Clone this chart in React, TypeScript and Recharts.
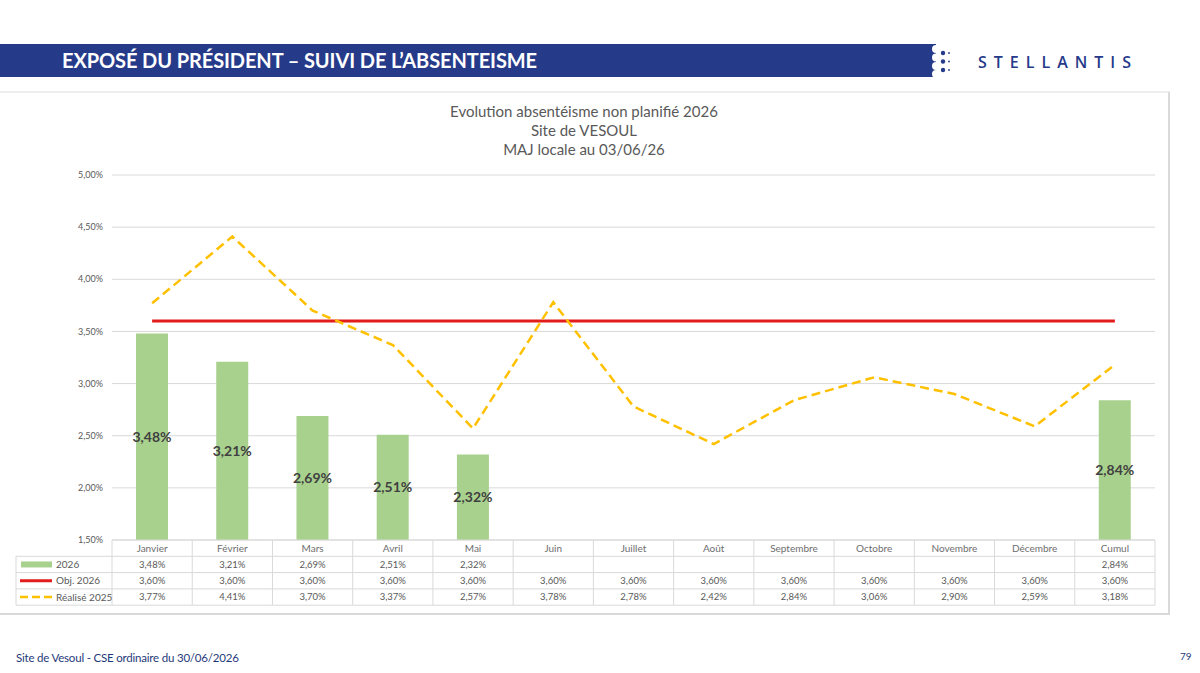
import React from "react";
import {
  ComposedChart,
  Bar,
  Line,
  XAxis,
  YAxis,
  CartesianGrid,
  LabelList,
} from "recharts";

// categories and series
const months = [
  "Janvier",
  "Février",
  "Mars",
  "Avril",
  "Mai",
  "Juin",
  "Juillet",
  "Août",
  "Septembre",
  "Octobre",
  "Novembre",
  "Décembre",
  "Cumul",
];
const taux2026 = [3.48, 3.21, 2.69, 2.51, 2.32, null, null, null, null, null, null, null, 2.84];
const objectif2026 = [3.6, 3.6, 3.6, 3.6, 3.6, 3.6, 3.6, 3.6, 3.6, 3.6, 3.6, 3.6, 3.6];
const realise2025 = [3.77, 4.41, 3.7, 3.37, 2.57, 3.78, 2.78, 2.42, 2.84, 3.06, 2.9, 2.59, 3.18];
const yTicks = [1.5, 2, 2.5, 3, 3.5, 4, 4.5, 5];

const data = months.map((m, i) => ({
  month: m,
  t2026: taux2026[i],
  obj: objectif2026[i],
  r2025: realise2025[i],
}));

const FONT = "Lato, 'Liberation Sans', sans-serif";
const GREEN = "#A9D18E";
const RED = "#E21B1B";
const YELLOW = "#FFC000";
const GRID = "#D9D9D9";
const TXT = "#595959";
const NAVY = "#263A8A";

const PLOT_LEFT = 112;
const PLOT_RIGHT = 1155;
const COL_W = (PLOT_RIGHT - PLOT_LEFT) / months.length;
const ROW_H = 16.3;
const LEGEND_LEFT = 16;

const pct = (v: number | null | undefined) =>
  v == null ? "" : v.toFixed(2).replace(".", ",") + "%";

// data table under the plot, one column per x tick
const TableColumn = (props: any) => {
  const { x, y, payload, index } = props;
  const i = payload.index ?? index;
  const x0 = x - COL_W / 2;
  const x1 = x + COL_W / 2;
  const rows = [taux2026[i], objectif2026[i], realise2025[i]];
  const line = { stroke: GRID, strokeWidth: 1 };
  return (
    <g fontFamily={FONT}>
      {[0, 1, 2, 3, 4].map((k) => (
        <line key={k} x1={x0} x2={x1} y1={y + k * ROW_H} y2={y + k * ROW_H} {...line} />
      ))}
      <line x1={x0} x2={x0} y1={y} y2={y + 4 * ROW_H} {...line} />
      {i === months.length - 1 && (
        <line x1={x1} x2={x1} y1={y} y2={y + 4 * ROW_H} {...line} />
      )}
      <text x={x} y={y + ROW_H / 2 + 3.5} textAnchor="middle" fontSize={10} fill="#6E6E6E">
        {payload.value}
      </text>
      {rows.map((v, k) => (
        <text
          key={k}
          x={x}
          y={y + (k + 1.5) * ROW_H + 3.3}
          textAnchor="middle"
          fontSize={9.5}
          fill={TXT}
        >
          {pct(v)}
        </text>
      ))}
      {i === 0 && (
        <g>
          {[1, 2, 3, 4].map((k) => (
            <line key={k} x1={LEGEND_LEFT} x2={x0} y1={y + k * ROW_H} y2={y + k * ROW_H} {...line} />
          ))}
          <line x1={LEGEND_LEFT} x2={LEGEND_LEFT} y1={y + ROW_H} y2={y + 4 * ROW_H} {...line} />
          <rect x={21} y={y + 1.5 * ROW_H - 3} width={31} height={6} fill={GREEN} />
          <line x1={20} x2={52} y1={y + 2.5 * ROW_H} y2={y + 2.5 * ROW_H} stroke={RED} strokeWidth={3} />
          <line
            x1={20}
            x2={52}
            y1={y + 3.5 * ROW_H}
            y2={y + 3.5 * ROW_H}
            stroke={YELLOW}
            strokeWidth={2.5}
            strokeDasharray="8 4"
          />
          {["2026", "Obj. 2026", "Réalisé 2025"].map((t, k) => (
            <text key={t} x={56} y={y + (k + 1.5) * ROW_H + 3.5} fontSize={10} fill={TXT}>
              {t}
            </text>
          ))}
        </g>
      )}
    </g>
  );
};

const App: React.FC = () => {
  return (
    <div
      style={{
        position: "absolute",
        left: 0,
        top: 0,
        width: 1200,
        height: 673,
        background: "#fff",
        overflow: "hidden",
        fontFamily: FONT,
      }}
    >
      {/* header band */}
      <div
        style={{
          position: "absolute",
          left: 0,
          top: 44,
          width: 936,
          height: 33,
          background: NAVY,
        }}
      />
      <svg style={{ position: "absolute", left: 930, top: 44 }} width={30} height={33}>
        {[5, 13.5, 22, 30].map((cy) => (
          <circle key={cy} cx={6} cy={cy} r={4} fill="#fff" />
        ))}
        {[9, 17.5, 26].map((cy) => (
          <circle key={cy} cx={13} cy={cy} r={2.2} fill={NAVY} />
        ))}
        {[9, 17.5, 26].map((cy) => (
          <circle key={"s" + cy} cx={19} cy={cy} r={0.9} fill={NAVY} />
        ))}
      </svg>
      <div
        style={{
          position: "absolute",
          left: 62,
          top: 48,
          color: "#fff",
          fontWeight: 700,
          fontSize: 20,
          letterSpacing: -0.1,
          whiteSpace: "nowrap",
        }}
      >
        EXPOSÉ DU PRÉSIDENT – SUIVI DE L’ABSENTEISME
      </div>
      <div
        style={{
          position: "absolute",
          left: 978,
          top: 51,
          color: NAVY,
          fontFamily: "'Open Sans', sans-serif",
          fontWeight: 600,
          fontSize: 16,
          letterSpacing: 7,
          whiteSpace: "nowrap",
        }}
      >
        STELLANTIS
      </div>

      {/* chart frame */}
      <div
        style={{
          position: "absolute",
          left: -2,
          top: 91,
          width: 1170,
          height: 520,
          borderTop: "2px solid #EEEEEE",
          borderRight: "2px solid #D9D9D9",
          borderBottom: "2px solid #D9D9D9",
        }}
      />

      {/* chart title */}
      <div
        style={{
          position: "absolute",
          left: 384,
          top: 102,
          width: 400,
          textAlign: "center",
          fontSize: 15,
          lineHeight: "19px",
          color: TXT,
        }}
      >
        <div>Evolution absentéisme non planifié 2026</div>
        <div>Site de VESOUL</div>
        <div>MAJ locale au 03/06/26</div>
      </div>

      <div style={{ position: "absolute", left: 0, top: 0 }}>
        <ComposedChart
          width={1200}
          height={673}
          data={data}
          margin={{ top: 175, right: 1200 - PLOT_RIGHT, left: PLOT_LEFT - 60, bottom: 673 - 540 - 70 }}
          barCategoryGap={0}
        >
          <CartesianGrid vertical={false} stroke={GRID} />
          <XAxis
            dataKey="month"
            axisLine={false}
            tickLine={false}
            tickSize={0}
            tickMargin={0}
            height={70}
            interval={0}
            tick={(p: any) => <TableColumn {...p} />}
          />
          <YAxis
            width={60}
            domain={[1.5, 5]}
            ticks={yTicks}
            axisLine={false}
            tickLine={false}
            tickFormatter={(v: number) => pct(v)}
            tick={{ fontSize: 9, fill: TXT, fontFamily: FONT }}
            tickMargin={3}
          />
          <Bar dataKey="t2026" fill={GREEN} barSize={32} isAnimationActive={false}>
            <LabelList
              dataKey="t2026"
              position="center"
              formatter={(v: any) => pct(v)}
              style={{ fontSize: 14, fontWeight: 700, fill: "#404040", fontFamily: FONT }}
            />
          </Bar>
          <Line
            type="linear"
            dataKey="obj"
            stroke={RED}
            strokeWidth={3}
            dot={false}
            activeDot={false}
            isAnimationActive={false}
          />
          <Line
            type="linear"
            dataKey="r2025"
            stroke={YELLOW}
            strokeWidth={2.5}
            strokeDasharray="9 5"
            dot={false}
            activeDot={false}
            isAnimationActive={false}
          />
        </ComposedChart>
      </div>

      {/* footer */}
      <div
        style={{
          position: "absolute",
          left: 16,
          top: 651,
          fontSize: 11.5,
          letterSpacing: -0.2,
          color: "#1F3A7A",
          whiteSpace: "nowrap",
        }}
      >
        Site de Vesoul - CSE ordinaire du 30/06/2026
      </div>
      <div
        style={{
          position: "absolute",
          left: 1180,
          top: 650,
          fontSize: 10,
          color: "#1F3A7A",
        }}
      >
        79
      </div>
    </div>
  );
};

export default App;
